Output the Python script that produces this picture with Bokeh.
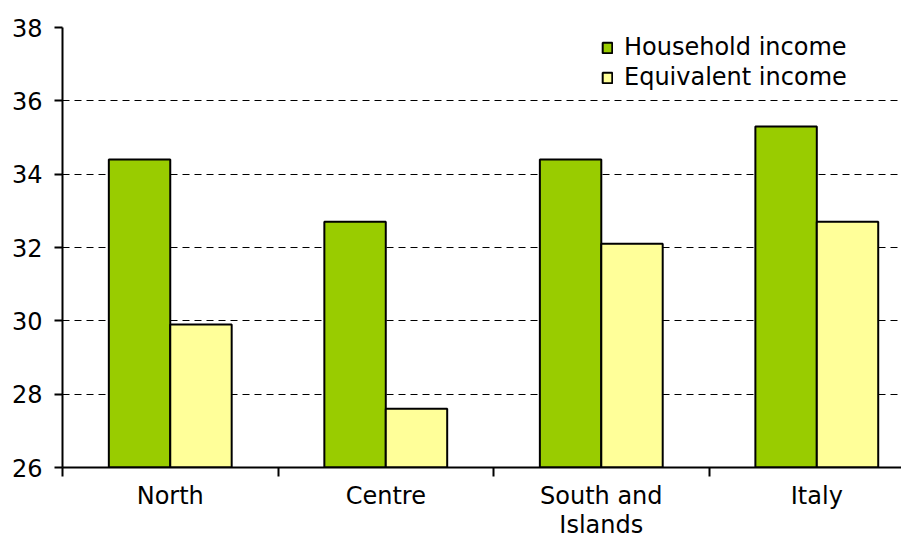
import numpy as np
from bokeh.plotting import figure
from bokeh.models import FixedTicker, Range1d, Legend
from bokeh.embed import file_html
from bokeh.resources import INLINE

categories = ["North", "Centre", "South and\nIslands", "Italy"]
household = [34.4, 32.7, 34.4, 35.3]
equivalent = [29.9, 27.6, 32.1, 32.7]
y_ticks = [26, 28, 30, 32, 34, 36, 38]

FONT = "DejaVu Sans"
FS = "24px"

centers = np.arange(len(categories)) + 0.5
off = 0.1425
bw = 0.285

p = figure(width=901, height=541, output_backend="svg", toolbar_location=None,
           x_range=Range1d(0, 3.893), y_range=Range1d(26, 38),
           min_border_left=62, min_border_right=0, min_border_top=27, min_border_bottom=74)
p.outline_line_color = None
p.background_fill_color = "white"
p.border_fill_color = "white"

r1 = p.vbar(x=centers - off, top=household, bottom=26, width=bw,
            fill_color="#99CC00", line_color="black", line_width=2)
r2 = p.vbar(x=centers + off, top=equivalent, bottom=26, width=bw,
            fill_color="#FFFF99", line_color="black", line_width=2)

# x axis
xa = p.xaxis[0]
xa.ticker = FixedTicker(ticks=list(centers), minor_ticks=list(range(len(categories) + 1)))
xa.major_label_overrides = {float(c): lab for c, lab in zip(centers, categories)}
xa.major_tick_out = 0
xa.major_tick_in = 0
xa.minor_tick_out = 9
xa.minor_tick_in = 0
xa.minor_tick_line_width = 2
xa.minor_tick_line_color = "black"
xa.axis_line_width = 2
xa.axis_line_color = "black"
xa.major_label_text_font = FONT
xa.major_label_text_font_size = FS
xa.major_label_text_color = "black"
xa.major_label_text_line_height = 1.05
xa.major_label_standoff = 5

# y axis
ya = p.yaxis[0]
ya.ticker = FixedTicker(ticks=y_ticks)
ya.major_tick_out = 8
ya.major_tick_in = 0
ya.minor_tick_out = 0
ya.minor_tick_in = 0
ya.major_tick_line_width = 2
ya.major_tick_line_color = "black"
ya.axis_line_width = 2
ya.axis_line_color = "black"
ya.major_label_text_font = FONT
ya.major_label_text_font_size = FS
ya.major_label_text_color = "black"
ya.major_label_standoff = 12

p.xgrid.grid_line_color = None
p.ygrid.grid_line_color = "black"
p.ygrid.grid_line_dash = "7 5"
p.ygrid.grid_line_width = 1
p.ygrid.ticker = FixedTicker(ticks=y_ticks)

legend = Legend(items=[("Household income", [r1]), ("Equivalent income", [r2])],
                location=(539, 376))
legend.glyph_width = 12
legend.glyph_height = 13
legend.label_standoff = 11
legend.spacing = 2
legend.padding = 0
legend.margin = 0
legend.border_line_color = None
legend.background_fill_alpha = 0
legend.label_text_font = FONT
legend.label_text_font_size = FS
legend.label_text_color = "black"
p.add_layout(legend, "center")

open("out.html", "w").write(file_html(p, INLINE))
